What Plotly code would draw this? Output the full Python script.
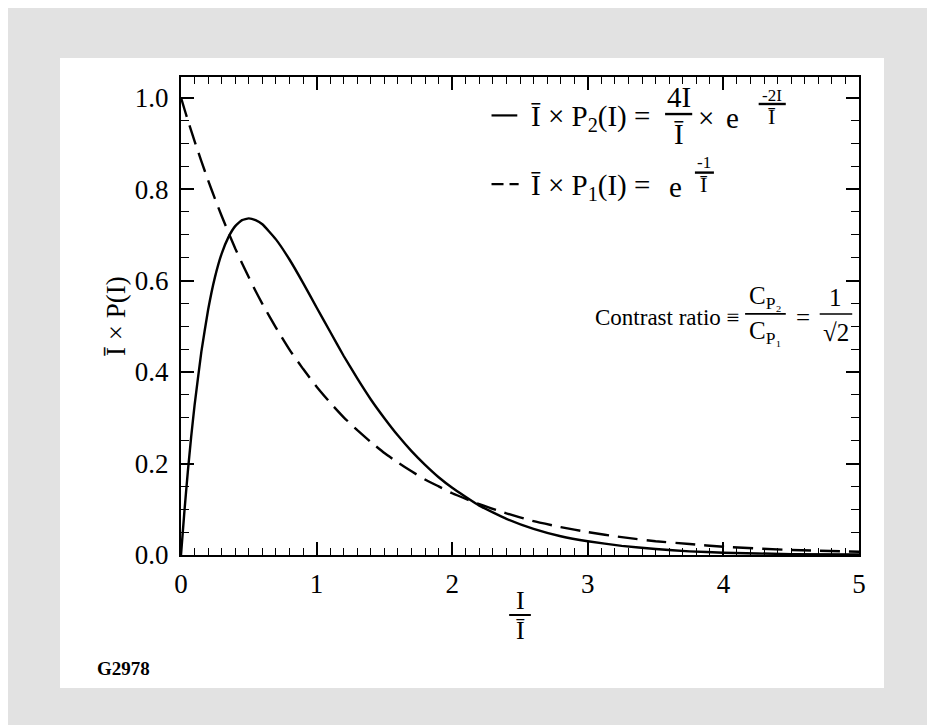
import plotly.graph_objects as go

# ---- data ----
x_vals = [0, 0.025, 0.05, 0.075, 0.1, 0.15, 0.2, 0.25, 0.3, 0.35, 0.4, 0.45, 0.5, 0.55, 0.6,
          0.7, 0.8, 0.9, 1.0, 1.1, 1.2, 1.3, 1.4, 1.5, 1.6, 1.7, 1.8, 1.9, 2.0,
          2.2, 2.4, 2.6, 2.8, 3.0, 3.25, 3.5, 3.75, 4.0, 4.5, 5.0]
p2_vals = [0.0, 0.095, 0.181, 0.258, 0.327, 0.444, 0.536, 0.607, 0.659, 0.695, 0.719, 0.732,
           0.736, 0.732, 0.723, 0.690, 0.646, 0.595, 0.541, 0.488, 0.435, 0.386, 0.340,
           0.299, 0.261, 0.227, 0.197, 0.170, 0.147, 0.108, 0.079, 0.057, 0.041, 0.030,
           0.020, 0.013, 0.008, 0.005, 0.002, 0.001]
p1_vals = [1.0, 0.975, 0.951, 0.928, 0.905, 0.861, 0.819, 0.779, 0.741, 0.705, 0.670, 0.638,
           0.607, 0.577, 0.549, 0.497, 0.449, 0.407, 0.368, 0.333, 0.301, 0.273, 0.247,
           0.223, 0.202, 0.183, 0.165, 0.150, 0.135, 0.111, 0.091, 0.074, 0.061, 0.050,
           0.039, 0.030, 0.024, 0.018, 0.011, 0.007]
x_ticks = [0, 1, 2, 3, 4, 5]
y_ticks = [0.0, 0.2, 0.4, 0.6, 0.8, 1.0]

FONT = "Liberation Serif, Times New Roman, serif"
W, H = 935, 725
L, R, T, B = 173, 84, 69, 178
PW, PH = W - L - R, H - T - B


def px_x(px):
    return (px - L) / PW


def px_y(py):
    return (H - B - py) / PH


fig = go.Figure()
fig.add_trace(go.Scatter(x=x_vals, y=p2_vals, mode="lines",
                         line=dict(color="black", width=2.4, shape="spline", smoothing=0.4),
                         showlegend=False))
fig.add_trace(go.Scatter(x=x_vals, y=p1_vals, mode="lines",
                         line=dict(color="black", width=2.4, dash="20px,9px",
                                   shape="spline", smoothing=0.4),
                         showlegend=False))

ann = []
shapes = []


def text(x, y, s, size=29, xanchor="left", xref="x", yref="y"):
    ann.append(dict(x=x, y=y, xref=xref, yref=yref, text=s, showarrow=False,
                    xanchor=xanchor, yanchor="middle",
                    font=dict(family=FONT, size=size, color="black")))


def hline(x0, x1, y, width=1.8, dash=None, xref="x", yref="y"):
    ln = dict(color="black", width=width)
    if dash:
        ln["dash"] = dash
    shapes.append(dict(type="line", x0=x0, x1=x1, y0=y, y1=y, xref=xref, yref=yref, line=ln))


# legend line 1
y1 = 0.955
hline(2.29, 2.48, y1 + 0.006, width=2.2)
text(2.57, y1, "Ī × P<sub>2</sub>(I) =")
text(3.67, y1 + 0.047, "4I", xanchor="center")
hline(3.57, 3.77, y1 + 0.009, width=2.4)
text(3.67, y1 - 0.034, "Ī", xanchor="center")
text(3.87, y1, "×", xanchor="center")
text(4.07, y1, "e", xanchor="center")
text(4.36, y1 + 0.05, "-2I", size=17, xanchor="center")
hline(4.26, 4.46, y1 + 0.031, width=2.4)
text(4.36, y1 + 0.004, "Ī", size=22, xanchor="center")

# legend line 2
y2 = 0.805
hline(2.29, 2.49, y2 + 0.006, width=2.2, dash="12px,6px")
text(2.57, y2, "Ī × P<sub>1</sub>(I) =")
text(3.645, y2, "e", xanchor="center")
text(3.86, y2 + 0.052, "-1", size=17, xanchor="center")
hline(3.79, 3.93, y2 + 0.031, width=2.4)
text(3.86, y2 + 0.004, "Ī", size=22, xanchor="center")

# contrast ratio
y3 = 0.52
text(3.04, y3, "Contrast ratio ≡", size=23)
text(4.31, y3 + 0.044, "C<sub>P₂</sub>", size=25, xanchor="center")
hline(4.16, 4.46, y3 + 0.007, width=1.8)
text(4.31, y3 - 0.034, "C<sub>P₁</sub>", size=25, xanchor="center")
text(4.585, y3, "=", size=25, xanchor="center")
text(4.83, y3 + 0.044, "1", size=25, xanchor="center")
hline(4.71, 4.95, y3 + 0.007, width=1.6)
text(4.83, y3 - 0.034, "√2", size=25, xanchor="center")

# x-axis title as fraction
text(2.5, px_y(592), "I", size=26, xanchor="center", yref="paper")
hline(2.42, 2.58, px_y(607), width=2, yref="paper")
text(2.5, px_y(622), "Ī", size=26, xanchor="center", yref="paper")

# y-axis title
ann.append(dict(x=px_x(108), y=0.5, xref="paper", yref="paper", text="Ī × P(I)",
                showarrow=False, textangle=-90, xanchor="center", yanchor="middle",
                font=dict(family=FONT, size=27, color="black")))

# figure code
ann.append(dict(x=px_x(87), y=px_y(660), xref="paper", yref="paper", text="<b>G2978</b>",
                showarrow=False, xanchor="left", yanchor="middle",
                font=dict(family=FONT, size=19, color="black")))

# white page inside gray textured border
shapes.insert(0, dict(type="rect", xref="paper", yref="paper", layer="below",
                      x0=px_x(52), x1=px_x(876), y0=px_y(680), y1=px_y(50),
                      fillcolor="white", line=dict(width=0)))

axis_common = dict(showline=True, linecolor="black", linewidth=2, mirror="allticks",
                   ticks="inside", ticklen=13, tickwidth=1.5, tickcolor="black",
                   showgrid=False, zeroline=False,
                   tickfont=dict(family=FONT, size=27, color="black"))

fig.update_layout(
    width=W, height=H,
    margin=dict(l=L, r=R, t=T, b=B, autoexpand=False),
    paper_bgcolor="#e2e2e2", plot_bgcolor="white",
    annotations=ann, shapes=shapes,
    xaxis=dict(range=[0, 5], tickvals=x_ticks, ticktext=[str(v) for v in x_ticks],
               minor=dict(dtick=0.1, tick0=0, ticks="inside", ticklen=7, tickwidth=1.2,
                          tickcolor="black"),
               ticklabelstandoff=4, **axis_common),
    yaxis=dict(range=[0, 1.045], tickvals=y_ticks, ticktext=[f"{v:.1f}" for v in y_ticks],
               minor=dict(dtick=0.05, tick0=0, ticks="inside", ticklen=8, tickwidth=1.2,
                          tickcolor="black"),
               ticklabelstandoff=5, **axis_common),
)

fig.write_html("out.html")
